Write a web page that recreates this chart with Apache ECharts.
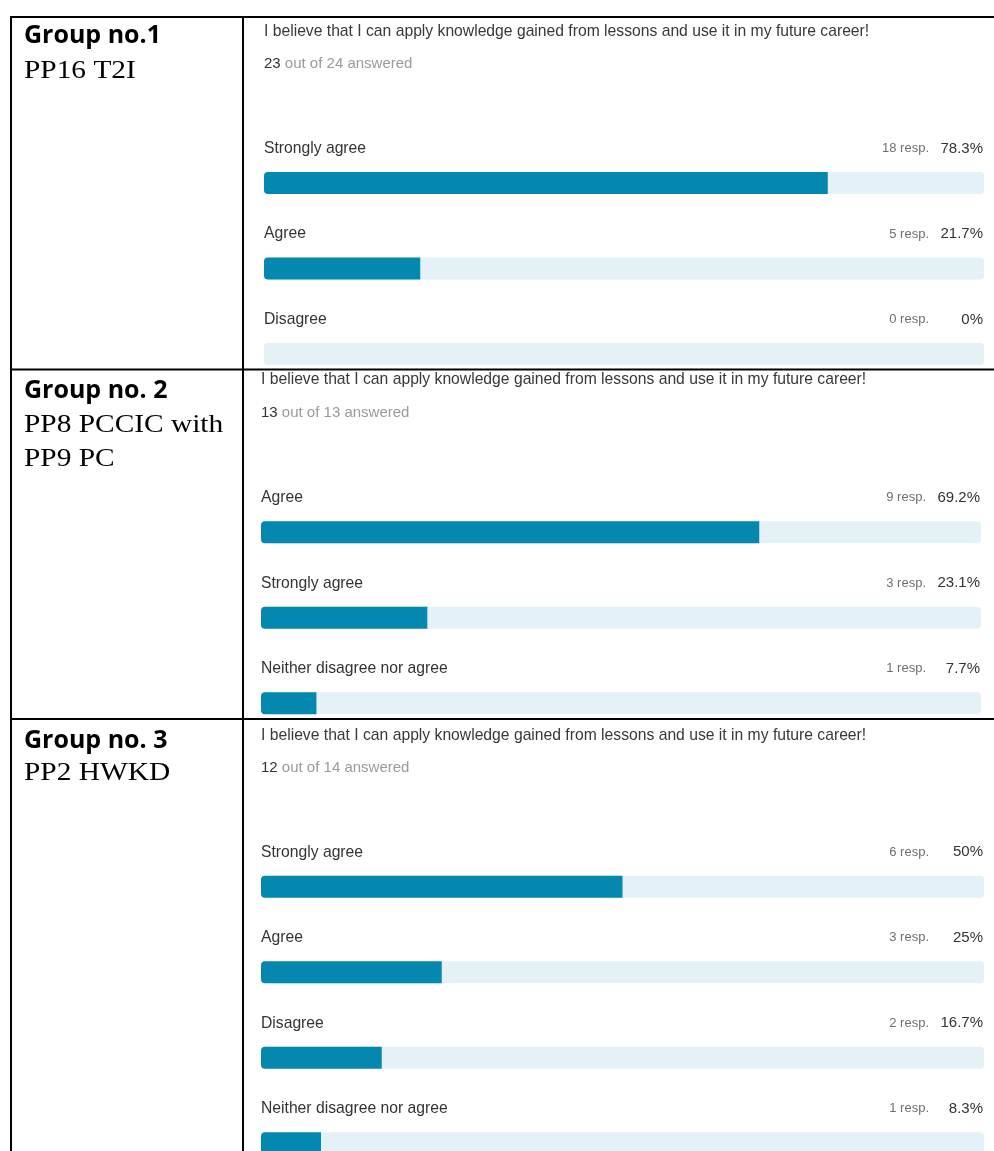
<!DOCTYPE html>
<html>
<head>
<meta charset="utf-8">
<title>Survey results by group</title>
<script src="https://cdn.jsdelivr.net/npm/echarts@6.0.0/dist/echarts.min.js"></script>
<style>
  html, body { margin: 0; padding: 0; background: #ffffff; overflow: hidden; }
  #chart { width: 994px; height: 1151px; }
</style>
</head>
<body>
<div id="chart"></div>
<script>
// ---- survey data ----
const question = 'I believe that I can apply knowledge gained from lessons and use it in my future career!';
const groupNames = ['Group no.1', 'Group no. 2', 'Group no. 3'];
const groupCourses = [['PP16 T2I'], ['PP8 PCCIC with', 'PP9 PC'], ['PP2 HWKD']];
const answeredCounts = [23, 13, 12];
const invitedCounts = [24, 13, 14];

const g1Categories = ['Strongly agree', 'Agree', 'Disagree'];
const g1Responses = [18, 5, 0];
const g1Percent = [78.3, 21.7, 0];

const g2Categories = ['Agree', 'Strongly agree', 'Neither disagree nor agree'];
const g2Responses = [9, 3, 1];
const g2Percent = [69.2, 23.1, 7.7];

const g3Categories = ['Strongly agree', 'Agree', 'Disagree', 'Neither disagree nor agree'];
const g3Responses = [6, 3, 2, 1];
const g3Percent = [50, 25, 16.7, 8.3];

const groups = [
  { cats: g1Categories, resp: g1Responses, pct: g1Percent },
  { cats: g2Categories, resp: g2Responses, pct: g2Percent },
  { cats: g3Categories, resp: g3Responses, pct: g3Percent }
];

// ---- layout of each panel ----
const CHART_W = 994;
const panels = [
  { left: 264, right: 10, top: 140.25, height: 256.5, titleTop: 23.5, countTop: 56.5, labelTop: [36, 71] },
  { left: 261, right: 13, top: 489.5, height: 256.5, titleTop: 371.5, countTop: 405.5, labelTop: [390.5, 425, 459] },
  { left: 261, right: 10, top: 844, height: 342, titleTop: 727.5, countTop: 760.5, labelTop: [740.5, 773] }
];

const SANS = '"Liberation Sans", Arial, Helvetica, sans-serif';
const BAR_COLOR = '#0588b0';
const TRACK_COLOR = '#e4f1f7';
const LABEL_LIFT = 69;   // bottom padding that lifts the row text above its bar
const RESP_W = 80;       // width of the "n resp." column
const PCT_W = 54;        // width of the percentage column

const titles = [], grids = [], xAxes = [], yAxes = [], series = [], graphics = [];

groups.forEach((g, i) => {
  const p = panels[i];
  const nameW = CHART_W - p.left - p.right - 1 - RESP_W - PCT_W;

  titles.push({
    text: question, left: p.left, top: p.titleTop, padding: 0,
    textStyle: { fontFamily: SANS, fontSize: 15.7, fontWeight: 'normal', color: '#383838' }
  });
  titles.push({
    text: '{a|' + answeredCounts[i] + '}{b| out of ' + invitedCounts[i] + ' answered}',
    left: p.left, top: p.countTop, padding: 0,
    textStyle: {
      fontWeight: 'normal',
      rich: {
        a: { fontFamily: SANS, fontSize: 15, fontWeight: 'normal', color: '#333333' },
        b: { fontFamily: SANS, fontSize: 15, fontWeight: 'normal', color: '#9a9a9a' }
      }
    }
  });

  grids.push({ left: p.left, right: p.right, top: p.top, height: p.height, outerBoundsMode: 'none', containLabel: false });

  xAxes.push({ type: 'value', gridIndex: i, min: 0, max: 100, show: false });

  // one row of text per option: name on the left, count and share on the right
  yAxes.push({
    type: 'category', gridIndex: i, data: g.cats, inverse: true, position: 'right',
    axisLine: { show: false }, axisTick: { show: false }, splitLine: { show: false },
    axisLabel: {
      inside: true, interval: 0, margin: 1,
      padding: [0, 0, LABEL_LIFT, 0],
      formatter: (value, idx) =>
        '{c|' + value + '}{r|' + g.resp[idx] + ' resp.}{p|' + g.pct[idx] + '%}',
      rich: {
        c: { fontFamily: SANS, fontSize: 15.7, color: '#333333', width: nameW, align: 'left' },
        r: { fontFamily: SANS, fontSize: 13, color: '#6f6f6f', width: RESP_W, align: 'right' },
        p: { fontFamily: SANS, fontSize: 15, color: '#333333', width: PCT_W, align: 'right' }
      }
    }
  });

  series.push({
    type: 'bar', xAxisIndex: i, yAxisIndex: i,
    data: g.pct, barWidth: 22,
    itemStyle: { color: BAR_COLOR, borderRadius: [4, 0, 0, 4] },
    showBackground: true,
    backgroundStyle: { color: TRACK_COLOR, borderRadius: 4 },
    silent: true
  });

  // left-hand cell: group name and course codes
  graphics.push({
    type: 'text', x: 24, y: p.labelTop[0],
    style: { text: groupNames[i], font: 'bold 25px "Open Sans", "Noto Sans", sans-serif', fill: '#000000', verticalAlign: 'middle' }
  });
  groupCourses[i].forEach((line, k) => {
    graphics.push({
      type: 'text', x: 24, y: p.labelTop[k + 1], scaleX: 1.13,
      style: { text: line, font: '26px "Liberation Serif", "Times New Roman", serif', fill: '#000000', verticalAlign: 'middle' }
    });
  });
});

// table rules
const rule = (x1, y1, x2, y2) => ({
  type: 'line', silent: true,
  shape: { x1, y1, x2, y2 },
  style: { stroke: '#000000', lineWidth: 2 }
});
graphics.push(rule(10, 17, 994, 17));
graphics.push(rule(11, 16, 11, 1151));
graphics.push(rule(243, 16, 243, 1151));
graphics.push(rule(10, 369.5, 994, 369.5));
graphics.push(rule(10, 719, 994, 719));

const chart = echarts.init(document.getElementById('chart'), null, { renderer: 'canvas' });
chart.setOption({
  animation: false,
  backgroundColor: '#ffffff',
  title: titles,
  grid: grids,
  xAxis: xAxes,
  yAxis: yAxes,
  series: series,
  graphic: graphics
});
</script>
</body>
</html>
